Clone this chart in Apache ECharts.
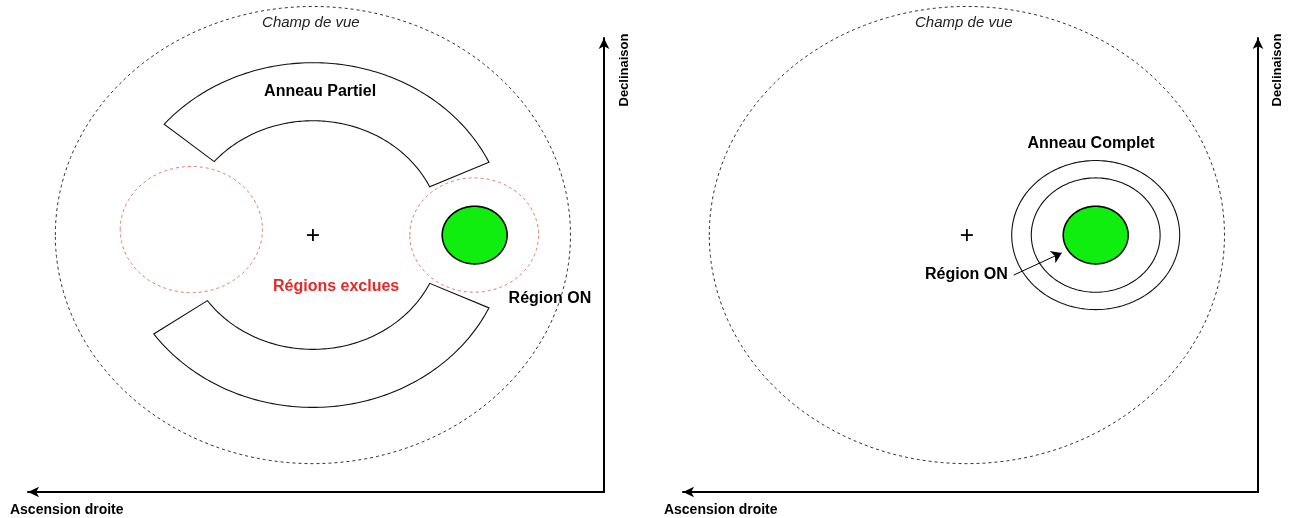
<!DOCTYPE html>
<html><head><meta charset="utf-8">
<script src="https://cdn.jsdelivr.net/npm/echarts@6/dist/echarts.min.js"></script>
<style>html,body{margin:0;padding:0;background:#fff}#c{width:1291px;height:518px}</style>
</head><body><div id="c"></div>
<script>
// ---------------- data (sky units; right ascension grows to the left) ----------------
const fieldOfViewRadius = 5;
const pointingCentre = [0, 0];

// left panel : partial ring background
const partialRingInner = 2.5;
const partialRingOuter = 3.77;
const partialRingArcStart = [40, 205];   // degrees
const partialRingArcEnd = [155, 325];
const excludedX = [2.36, -3.13];
const excludedY = [0.12, 0];
const excludedR = [1.38, 1.25];
const onRegionLeft = [-3.14, 0, 0.63];

// right panel : complete ring background
const completeRingCentre = [-2.5, 0];
const completeRingRadii = [1.25, 1.63];
const onRegionRight = [-2.5, 0, 0.63];
const onPointerFrom = [-0.91, -0.875];
const onPointerTo = [-1.84, -0.39];

// axis ranges
const raRangeLeft = [-5.65, 5.53];
const raRangeRight = [-5.65, 5.51];
const decRange = [-5.62, 4.31];

// labels
const leftLabelText = ['Champ de vue', 'Anneau Partiel', 'Régions exclues', 'Région ON', 'Ascension droite', 'Declinaison'];
const leftLabelX = [0.04, -0.14, -0.45, -4.6, 5.88, -6.04];
const leftLabelY = [4.64, 3.13, -1.12, -1.38, -6.02, 3.61];
const rightLabelText = ['Champ de vue', 'Anneau Complet', 'Région ON', 'Ascension droite', 'Declinaison'];
const rightLabelX = [0.06, -2.41, 0.01, 5.88, -6.02];
const rightLabelY = [4.64, 2.01, -0.875, -6.02, 3.61];

// ---------------- styles ----------------
const FONT = "'Liberation Sans', Arial, Helvetica, sans-serif";
const labelStyles = {
  'Champ de vue': { font: 'italic 15px ' + FONT, fill: '#222', align: 'center' },
  'Anneau Partiel': { font: 'bold 16px ' + FONT, fill: '#000', align: 'center' },
  'Anneau Complet': { font: 'bold 16px ' + FONT, fill: '#000', align: 'center' },
  'Régions exclues': { font: 'bold 16px ' + FONT, fill: '#e02b2b', align: 'center' },
  'Région ON': { font: 'bold 16px ' + FONT, fill: '#000', align: 'center' },
  'Ascension droite': { font: 'bold 14px ' + FONT, fill: '#000', align: 'left' },
  'Declinaison': { font: 'bold 13px ' + FONT, fill: '#000', align: 'center', rotate: true }
};

function arcPoints(api, cx, cy, r, a0, a1, n) {
  const pts = [];
  for (let i = 0; i <= n; i++) {
    const a = (a0 + (a1 - a0) * i / n) * Math.PI / 180;
    pts.push(api.coord([cx + r * Math.cos(a), cy + r * Math.sin(a)]));
  }
  return pts;
}

function circleSeries(g, data, style, z) {
  return {
    type: 'custom', xAxisIndex: g, yAxisIndex: g, silent: true, z: z,
    data: data, encode: { x: 0, y: 1 },
    renderItem: function (params, api) {
      return {
        type: 'polygon',
        shape: { points: arcPoints(api, api.value(0), api.value(1), api.value(2), 0, 360, 200) },
        style: Object.assign({}, style)
      };
    }
  };
}

function segmentSeries(g, data, style, z) {
  return {
    type: 'custom', xAxisIndex: g, yAxisIndex: g, silent: true, z: z,
    data: data, encode: { x: 0, y: 1 },
    renderItem: function (params, api) {
      const cx = api.value(0), cy = api.value(1), ri = api.value(2), ro = api.value(3), a0 = api.value(4), a1 = api.value(5);
      const outer = arcPoints(api, cx, cy, ro, a0, a1, 120);
      const inner = arcPoints(api, cx, cy, ri, a1, a0, 120);
      return { type: 'polygon', shape: { points: outer.concat(inner) }, style: Object.assign({}, style) };
    }
  };
}

function crossSeries(g, centre) {
  return {
    type: 'custom', xAxisIndex: g, yAxisIndex: g, silent: true, z: 5,
    data: [centre], encode: { x: 0, y: 1 },
    renderItem: function (params, api) {
      const p = api.coord([api.value(0), api.value(1)]);
      const s = 6;
      const st = { stroke: '#000', lineWidth: 1.8 };
      return {
        type: 'group', children: [
          { type: 'line', shape: { x1: p[0] - s, y1: p[1], x2: p[0] + s, y2: p[1] }, style: st },
          { type: 'line', shape: { x1: p[0], y1: p[1] - s, x2: p[0], y2: p[1] + s }, style: st }
        ]
      };
    }
  };
}

function labelSeries(g, texts, xs, ys) {
  return {
    type: 'custom', xAxisIndex: g, yAxisIndex: g, silent: true, z: 10, clip: false,
    data: xs.map((x, i) => [x, ys[i]]), encode: { x: 0, y: 1 },
    renderItem: function (params, api) {
      const t = texts[params.dataIndex];
      const st = labelStyles[t];
      const p = api.coord([api.value(0), api.value(1)]);
      return {
        type: 'text', x: p[0], y: p[1], rotation: st.rotate ? Math.PI / 2 : 0,
        style: { text: t, font: st.font, fill: st.fill, align: st.align, verticalAlign: 'middle' }
      };
    }
  };
}

const fovStyle = { fill: 'none', stroke: '#333', lineWidth: 1, lineDash: [3, 3] };
const exclStyle = { fill: 'none', stroke: '#e07a6a', lineWidth: 1, lineDash: [3, 3] };
const ringStyle = { fill: 'none', stroke: '#111', lineWidth: 1.1 };
const onStyle = { fill: '#10ee10', stroke: '#000', lineWidth: 1.6 };

function axisPair(g, range) {
  return {
    x: {
      gridIndex: g, type: 'value', inverse: true, min: range[0], max: range[1],
      axisLine: { show: true, onZero: false, symbol: ['arrow', 'none'], symbolSize: [8, 11], lineStyle: { color: '#000', width: 2 } },
      axisTick: { show: false }, axisLabel: { show: false }, splitLine: { show: false }
    },
    y: {
      gridIndex: g, type: 'value', position: 'right', min: decRange[0], max: decRange[1],
      axisLine: { show: true, onZero: false, symbol: ['none', 'arrow'], symbolSize: [8, 11], lineStyle: { color: '#000', width: 2 } },
      axisTick: { show: false }, axisLabel: { show: false }, splitLine: { show: false }
    }
  };
}
const axL = axisPair(0, raRangeLeft), axR = axisPair(1, raRangeRight);

const chart = echarts.init(document.getElementById('c'), null, { renderer: 'canvas' });
chart.setOption({
  animation: false,
  backgroundColor: '#fff',
  grid: [
    { left: 28, top: 38, width: 576, height: 454 },
    { left: 683, top: 38, width: 575, height: 454 }
  ],
  xAxis: [axL.x, axR.x],
  yAxis: [axL.y, axR.y],
  series: [
    // left panel
    circleSeries(0, [[pointingCentre[0], pointingCentre[1], fieldOfViewRadius]], fovStyle, 1),
    segmentSeries(0, partialRingArcStart.map((a, i) => [pointingCentre[0], pointingCentre[1], partialRingInner, partialRingOuter, a, partialRingArcEnd[i]]), ringStyle, 2),
    circleSeries(0, excludedX.map((x, i) => [x, excludedY[i], excludedR[i]]), exclStyle, 2),
    circleSeries(0, [onRegionLeft], onStyle, 3),
    crossSeries(0, pointingCentre),
    labelSeries(0, leftLabelText, leftLabelX, leftLabelY),
    // right panel
    circleSeries(1, [[pointingCentre[0], pointingCentre[1], fieldOfViewRadius]], fovStyle, 1),
    circleSeries(1, completeRingRadii.map(r => [completeRingCentre[0], completeRingCentre[1], r]), ringStyle, 2),
    circleSeries(1, [onRegionRight], onStyle, 3),
    crossSeries(1, pointingCentre),
    {
      type: 'lines', coordinateSystem: 'cartesian2d', xAxisIndex: 1, yAxisIndex: 1, silent: true, z: 6,
      symbol: ['none', 'arrow'], symbolSize: 10,
      lineStyle: { color: '#000', width: 1, opacity: 1 },
      data: [{ coords: [onPointerFrom, onPointerTo] }]
    },
    labelSeries(1, rightLabelText, rightLabelX, rightLabelY)
  ]
});
</script></body></html>
